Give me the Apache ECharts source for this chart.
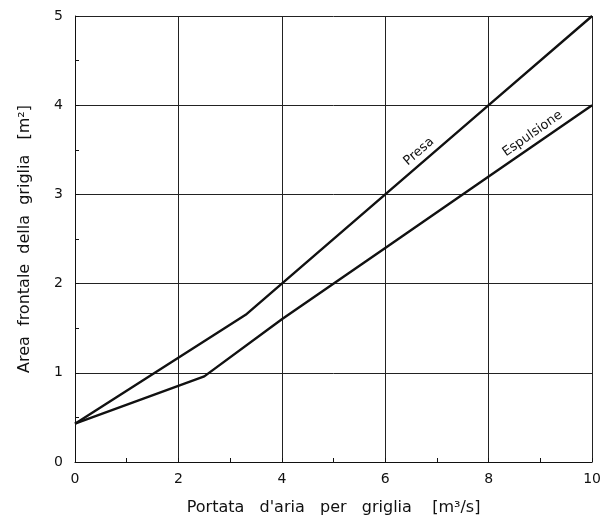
<!DOCTYPE html>
<html>
<head>
<meta charset="utf-8">
<script src="https://cdn.jsdelivr.net/npm/echarts@6/dist/echarts.min.js"></script>
<style>
  html, body { margin: 0; padding: 0; background: #fff; }
  #chart { width: 604px; height: 521px; }
</style>
</head>
<body>
<div id="chart"></div>
<script>
// portata d'aria [m3/s] e area frontale [m2]
const presaX = [0, 3.3, 4, 6, 8, 10]
const presaY = [0.43, 1.65, 2.0, 3.0, 4.0, 5.0]
const espulsioneX = [0, 2.5, 4, 6, 8, 10]
const espulsioneY = [0.43, 0.96, 1.6, 2.4, 3.2, 4.0]
const seriesNames = ['Presa', 'Espulsione']
// etichette lungo le curve: [x, y, rotazione]
const labelPresa = [6.65, 3.48, 41]
const labelEspulsione = [8.85, 3.68, 35]

const font = 'DejaVu Sans'

function pairs(xs, ys) {
  return xs.map((x, i) => [x, ys[i]])
}

function curve(name, xs, ys, lab) {
  return {
    name: name,
    type: 'line',
    data: pairs(xs, ys),
    symbol: 'none',
    lineStyle: { color: '#111', width: 2.4 },
    silent: true,
    markPoint: {
      symbol: 'circle',
      symbolSize: 0,
      data: [{
        coord: [lab[0], lab[1]],
        label: {
          show: true,
          formatter: name,
          rotate: lab[2],
          position: 'inside',
          fontFamily: font,
          fontSize: 13,
          color: '#111'
        }
      }]
    }
  }
}

const chart = echarts.init(document.getElementById('chart'))
chart.setOption({
  backgroundColor: '#fff',
  animation: false,
  grid: { left: 75, right: 10, top: 16, bottom: 58 },
  xAxis: {
    type: 'value',
    min: 0,
    max: 10,
    interval: 2,
    name: "Portata   d'aria   per   griglia    [m³/s]",
    nameLocation: 'middle',
    nameGap: 38,
    nameMoveOverlap: false,
    nameTextStyle: { fontFamily: font, fontSize: 16, color: '#111' },
    axisLine: { lineStyle: { color: '#111', width: 1 } },
    axisTick: { show: true, inside: true, length: 4, lineStyle: { color: '#111' } },
    minorTick: { show: true, splitNumber: 2, length: 4, lineStyle: { color: '#111' } },
    axisLabel: { fontFamily: font, fontSize: 14, color: '#111', margin: 10 },
    splitLine: { show: true, lineStyle: { color: '#222', width: 1 } }
  },
  yAxis: {
    type: 'value',
    min: 0,
    max: 5,
    interval: 1,
    name: 'Area  frontale  della  griglia   [m²]',
    nameLocation: 'middle',
    nameGap: 42,
    nameMoveOverlap: false,
    nameTextStyle: { fontFamily: font, fontSize: 16, color: '#111' },
    axisLine: { show: true, lineStyle: { color: '#111', width: 1 } },
    axisTick: { show: true, inside: true, length: 4, lineStyle: { color: '#111' } },
    minorTick: { show: true, splitNumber: 2, length: 4, lineStyle: { color: '#111' } },
    axisLabel: { fontFamily: font, fontSize: 14, color: '#111', margin: 12 },
    splitLine: { show: true, lineStyle: { color: '#222', width: 1 } }
  },
  series: [
    curve(seriesNames[0], presaX, presaY, labelPresa),
    curve(seriesNames[1], espulsioneX, espulsioneY, labelEspulsione)
  ]
})
</script>
</body>
</html>
